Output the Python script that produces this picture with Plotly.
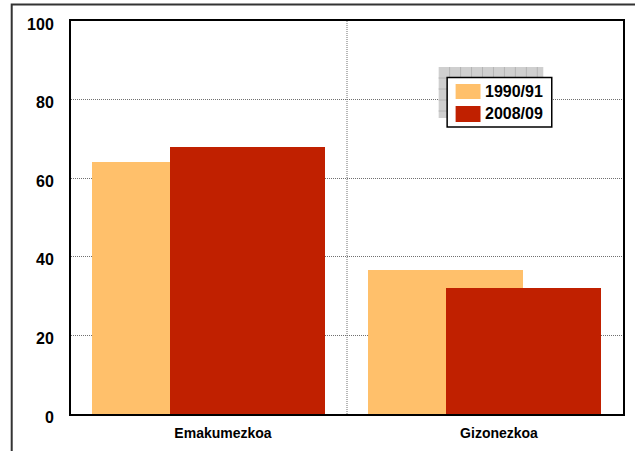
import plotly.graph_objects as go

# ---- data ----
categories = ["Emakumezkoa", "Gizonezkoa"]
series_names = ["1990/91", "2008/09"]
values_1990 = [64.0, 36.6]
values_2008 = [68.0, 32.0]
y_ticks = [0, 20, 40, 60, 80, 100]

colors = ["#FFC06B", "#C02000"]

W, H = 635, 451
PL, PT, PR, PB = 71, 21, 625, 414  # plot area in page pixels
ML, MT = PL, PT
MR = W - PR
MB = H - PB
PW = PR - PL
PH = PB - PT

def px(x):
    return (x - PL) / PW

def py(y):
    return (PB - y) / PH

font_family = "Liberation Sans, Arial, sans-serif"

fig = go.Figure()
fig.add_trace(go.Bar(x=categories, y=values_1990, name=series_names[0],
                     marker=dict(color=colors[0], line=dict(width=0)),
                     width=0.563, offset=-0.424, showlegend=False))
fig.add_trace(go.Bar(x=categories, y=values_2008, name=series_names[1],
                     marker=dict(color=colors[1], line=dict(width=0)),
                     width=0.563, offset=-0.143, showlegend=False))

shapes = []
# vertical dotted separator between categories
shapes.append(dict(type="line", xref="x", yref="y domain", x0=0.5, x1=0.5, y0=0, y1=1,
                   line=dict(color="#707070", width=1, dash="1px,1px"), layer="below"))
# outer frame (extends past the right/bottom edges)
shapes.append(dict(type="rect", xref="paper", yref="paper",
                   x0=px(11.5), x1=px(650), y0=py(4.5), y1=py(480),
                   line=dict(color="#333333", width=2), fillcolor="rgba(0,0,0,0)"))
# legend shadow (gray hatched)
sx0, sx1, sy0, sy1 = 440, 545, 67, 118
shapes.append(dict(type="rect", xref="paper", yref="paper",
                   x0=px(sx0), x1=px(sx1), y0=py(sy0), y1=py(sy1),
                   line=dict(width=0), fillcolor="#cfcfcf"))
gx = sx0 + 11
while gx < sx1:
    shapes.append(dict(type="line", xref="paper", yref="paper", x0=px(gx), x1=px(gx),
                       y0=py(sy0), y1=py(sy1), line=dict(color="#b4b4b4", width=1)))
    gx += 11
gy = sy0 + 11
while gy < sy1:
    shapes.append(dict(type="line", xref="paper", yref="paper", x0=px(sx0), x1=px(sx1),
                       y0=py(gy), y1=py(gy), line=dict(color="#b4b4b4", width=1)))
    gy += 11
# legend box
shapes.append(dict(type="rect", xref="paper", yref="paper",
                   x0=px(448.5), x1=px(553.5), y0=py(77.5), y1=py(127),
                   line=dict(color="#000000", width=1.5), fillcolor="#ffffff"))
# legend swatches
sw_y = [(84, 99), (106, 122)]
for i, (a, b) in enumerate(sw_y):
    shapes.append(dict(type="rect", xref="paper", yref="paper",
                       x0=px(457), x1=px(482), y0=py(a), y1=py(b),
                       line=dict(width=0), fillcolor=colors[i]))

annotations = []
for i, (a, b) in enumerate(sw_y):
    annotations.append(dict(text=series_names[i], xref="paper", yref="paper",
                            x=px(484), y=py((a + b) / 2), xanchor="left", yanchor="middle",
                            showarrow=False,
                            font=dict(family=font_family, size=16, color="#000000", weight="bold")))

fig.update_layout(
    width=W, height=H,
    margin=dict(l=ML, r=MR, t=MT, b=MB, pad=0),
    paper_bgcolor="#ffffff", plot_bgcolor="#ffffff",
    barmode="overlay", bargap=0,
    showlegend=False,
    shapes=shapes, annotations=annotations,
    font=dict(family=font_family, size=14, color="#000000"),
)
fig.update_xaxes(
    type="category", range=[-0.5, 1.5],
    showgrid=False, showline=True, linecolor="#000000", linewidth=2, mirror=True,
    ticks="", ticklabelstandoff=5, ticklabelshift=14,
    tickfont=dict(family=font_family, size=14, color="#000000", weight="bold"),
)
fig.update_yaxes(
    range=[0, 100], tickvals=y_ticks,
    showgrid=True, gridcolor="#707070", gridwidth=1, griddash="1px,1px",
    showline=True, linecolor="#000000", linewidth=2, mirror=True,
    zeroline=False, ticks="", ticklabelstandoff=12, ticklabelshift=3,
    tickfont=dict(family=font_family, size=16, color="#000000", weight="bold"),
)

# remove the browser's default body margin so the figure sits at the page origin
fig.write_html("out.html",
               config={"displayModeBar": False},
               post_script="document.body.style.margin='0px';document.body.style.overflow='hidden';")
